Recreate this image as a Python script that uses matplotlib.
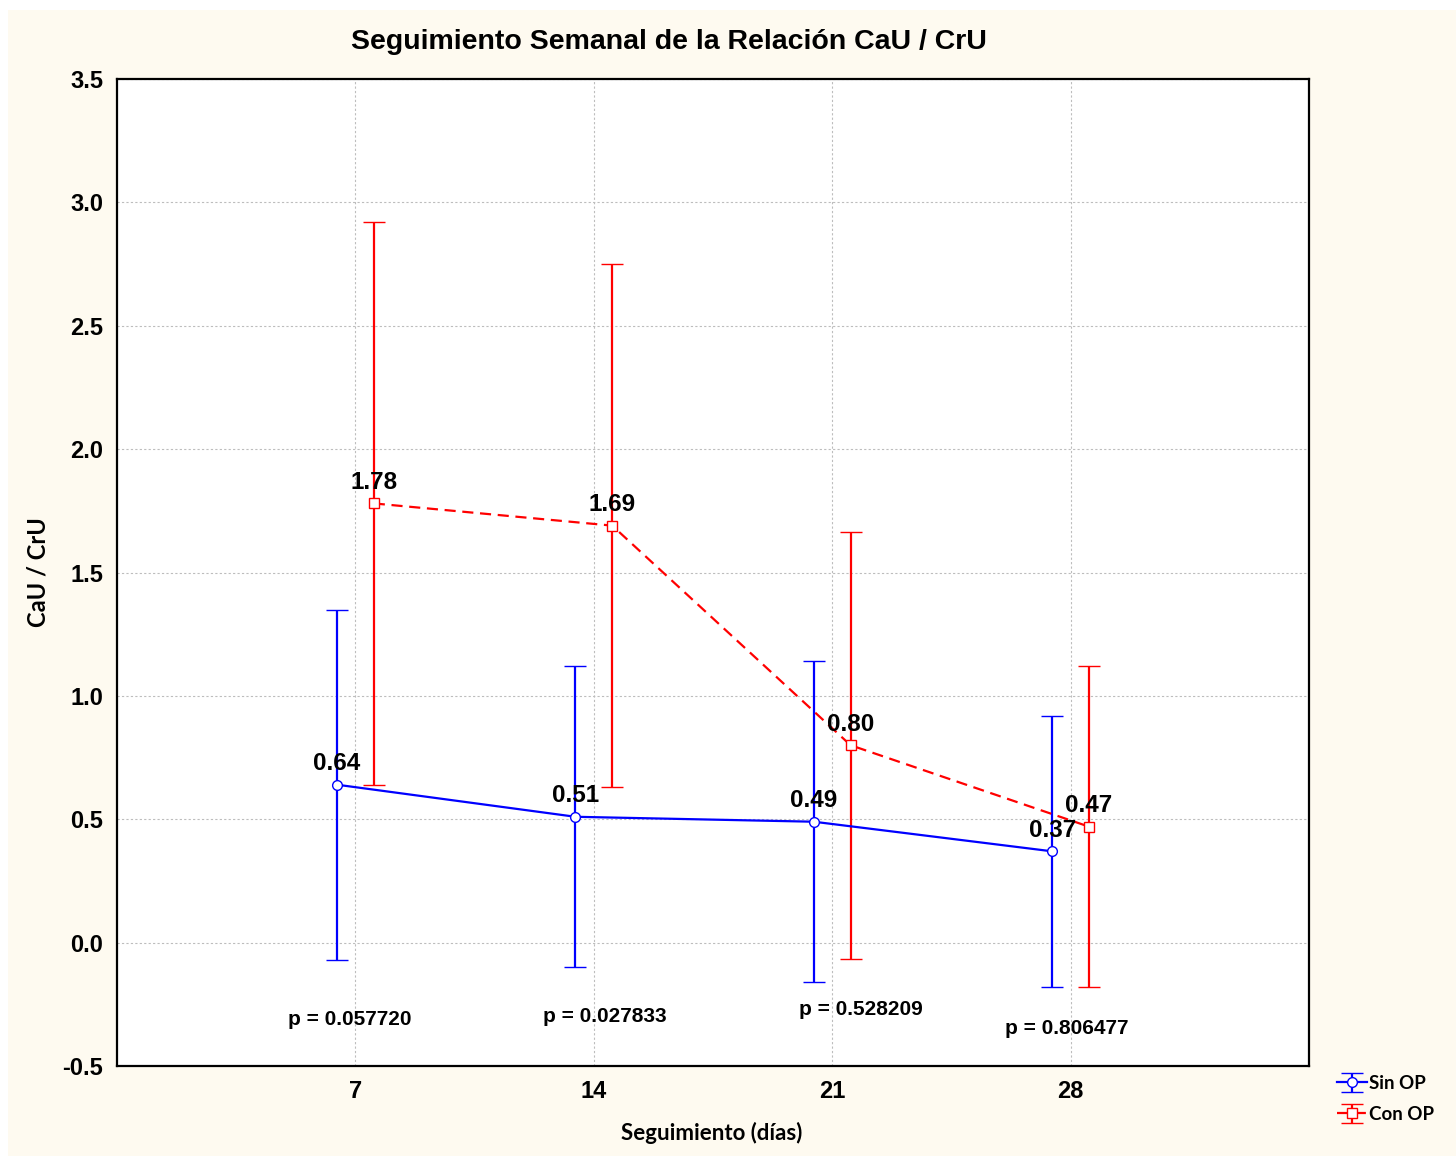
import numpy as np
import matplotlib
matplotlib.use("Agg")
import matplotlib.pyplot as plt
from matplotlib.patches import Rectangle

# Weekly follow-up values
dias = [7, 14, 21, 28]
sin_media = [0.64, 0.51, 0.49, 0.37]
sin_err = [0.71, 0.61, 0.65, 0.55]
con_media = [1.78, 1.69, 0.80, 0.47]
con_err = [1.14, 1.06, 0.865, 0.65]
p_textos = ["p = 0.057720", "p = 0.027833", "p = 0.528209", "p = 0.806477"]
p_x = [6.82, 14.32, 21.85, 27.88]
p_y = [-0.31, -0.30, -0.27, -0.35]

azul = "#0000FF"
rojo = "#FF0000"
desp = 0.54                                   # horizontal offset of each group

fig = plt.figure(figsize=(14.56, 11.56), dpi=100, facecolor="white")
fig.patches.append(Rectangle((8/1456, 0.0), 1 - 8/1456, 1 - 10/1156,
                             transform=fig.transFigure, facecolor="#FEFAF0",
                             edgecolor="none", zorder=-10))
ax = fig.add_axes([117/1456, 1 - 1066/1156, (1309 - 117)/1456, (1066 - 79)/1156])
ax.set_facecolor("white")

x_sin = np.array(dias) - desp
x_con = np.array(dias) + desp

ax.errorbar(x_sin, sin_media, yerr=sin_err, color=azul, lw=1.6, elinewidth=1.6,
            capsize=8, capthick=1.6, marker="o", ms=7, mfc="white", mec=azul,
            mew=1.0, label="Sin OP", zorder=3)
ax.errorbar(x_con, con_media, yerr=con_err, color=rojo, lw=1.6, elinewidth=1.6,
            capsize=8, capthick=1.6, marker="s", ms=7, mfc="white", mec=rojo,
            mew=1.0, ls=(0, (5, 3)), label="Con OP", zorder=3)

fb = ["Liberation Sans", "DejaVu Sans"]
for xs, ys in ((x_sin, sin_media), (x_con, con_media)):
    for xv, yv in zip(xs, ys):
        ax.annotate("%.2f" % yv, (xv, yv), xytext=(0, 15), textcoords="offset points",
                    ha="center", va="center", fontsize=17.5, fontweight="bold",
                    family=fb, zorder=5)

for t, xv, yv in zip(p_textos, p_x, p_y):
    ax.text(xv, yv, t, ha="center", va="center", fontsize=15,
            fontweight="bold", family=fb)

ax.set_xlim(0, 35)
ax.set_ylim(-0.5, 3.5)
ax.set_xticks(dias)
ax.set_yticks(np.arange(-0.5, 3.51, 0.5))
ax.set_yticklabels(["%.1f" % v for v in np.arange(-0.5, 3.51, 0.5)])
for lab in ax.get_xticklabels() + ax.get_yticklabels():
    lab.set_family(fb)
    lab.set_fontweight("bold")
    lab.set_fontsize(17)
ax.tick_params(length=0, pad=10)
ax.grid(True, color="#BDBDBD", ls=(0, (2, 2)), lw=0.8)
ax.set_axisbelow(True)
for s in ax.spines.values():
    s.set_linewidth(1.6)
    s.set_color("black")

fig.text(669/1456, 1 - 42/1156, "Seguimiento Semanal de la Relación CaU / CrU",
         ha="center", va="center", fontsize=20.5, fontweight="bold", family=fb)
fig.text(712/1456, 1 - 1133/1156, "Seguimiento (días)", ha="center", va="center",
         fontsize=16, fontweight="bold", family=["Lato", "DejaVu Sans"])
fig.text(38/1456, 1 - 572/1156, "CaU / CrU", ha="center", va="center", rotation=90,
         fontsize=17, fontweight="bold", family=["Lato", "DejaVu Sans"])

fig.legend(loc="center left", bbox_to_anchor=(1328/1456, 1 - 1099/1156), frameon=False,
           prop={"family": "Lato", "weight": "bold", "size": 13.5},
           handlelength=1.6, handletextpad=0.1, labelspacing=0.75, borderpad=0)

fig.savefig("out.png", dpi=100, facecolor=fig.get_facecolor())
